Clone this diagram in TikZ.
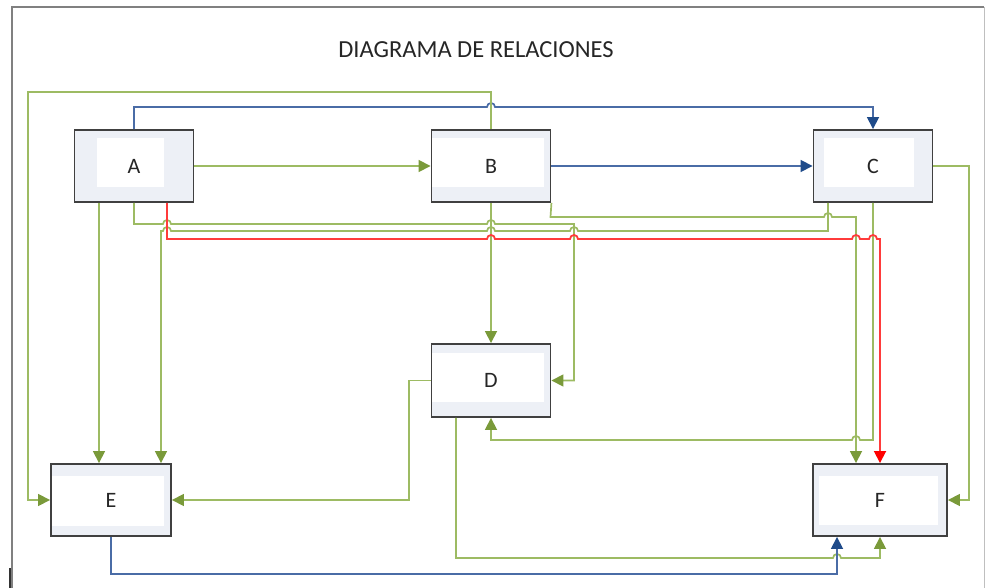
\documentclass[tikz,border=0pt]{standalone}
\usepackage{fontspec}
\setmainfont{Carlito}
\usetikzlibrary{arrows.meta}
\definecolor{lgreen}{HTML}{9DBB63}
\definecolor{agreen}{HTML}{7A9A3A}
\definecolor{lblue}{HTML}{4A6CA6}
\definecolor{ablue}{HTML}{1F4B8A}
\definecolor{lred}{HTML}{FF3B3B}
\definecolor{ared}{HTML}{FF0000}
\definecolor{boxfill}{HTML}{EDF0F6}
\definecolor{boxline}{HTML}{404040}
\definecolor{frame}{HTML}{808080}
\begin{document}
\begin{tikzpicture}[x=1pt,y=-1pt,
  box/.style n args={6}{draw=boxline, line width=1.9pt, fill=boxfill,
    minimum width=#1pt, minimum height=#2pt, inner sep=0pt,
    font=\fontsize{22}{26}\selectfont, text=black!85,
    path picture={\fill[white] ([xshift=#3pt,yshift=#6pt]path picture bounding box.south west)
      rectangle ([xshift=-#4pt,yshift=-#5pt]path picture bounding box.north east);}},
  gline/.style={draw=lgreen, line width=1.7pt, -{Triangle[length=12pt,width=12pt,color=agreen]}},
  bline/.style={draw=lblue, line width=1.7pt, -{Triangle[length=12pt,width=12pt,color=ablue]}},
  rline/.style={draw=lred, line width=1.8pt, -{Triangle[length=12pt,width=12pt,color=ared]}},
  jumpR/.style 2 args={insert path={-- (#1-4,#2) arc (180:360:4)}},
  jumpL/.style 2 args={insert path={-- (#1+4,#2) arc (0:-180:4)}}
]
\useasboundingbox (0,0) rectangle (986,588);
% frame
\draw[frame, line width=2pt] (12,588) -- (12,7) -- (984,7);
\draw[black!25, line width=1pt] (984,7) -- (984,588);
\draw[black!80, line width=2pt] (10,568) -- (10,588);
% title
\node[font=\fontsize{24.5}{29}\selectfont, text=black!85] (title) at (476,50) {DIAGRAMA DE RELACIONES};
% boxes: width, height, inset left, right, top, bottom
\node[box={119}{72}{22}{30}{8}{15}] (A) at (134,166) {A};
\node[box={119}{72}{0}{7}{8}{15}] (B) at (491,166) {B};
\node[box={119}{72}{10}{19}{8}{15}] (C) at (873,166) {C};
\node[box={119}{73}{0}{7}{9}{15}] (D) at (491,380.5) {D};
\node[box={120}{72}{0}{7}{12}{10}] (E) at (111,500) {E};
\node[box={134}{72}{6}{9}{12}{11}] (F) at (880,500) {F};
% connectors
\draw[gline] (A.east) -- (B.west);
\draw[bline] (A.north) -- (134,107) [jumpR={491}{107}] -- (873,107) -- (C.north);
\draw[bline] (B.east) -- (C.west);
\draw[gline] (B.north) -- (491,92) -- (28,92) -- (28,500) -- (E.west);
\draw[gline] ([xshift=-35pt]A.south) -- ([xshift=-12pt]E.north);
\draw[gline] (A.south) -- (134,224) [jumpR={167}{224}] [jumpR={491}{224}] -- (574,224) -- (574,380.5) -- (D.east);
\draw[gline] (B.south) -- (D.north);
\draw[gline] (B.south east) -- (550.5,217) [jumpR={828}{217}] -- (856,217) -- ([xshift=-24pt]F.north);
\draw[gline] (C.south) -- (873,440) [jumpL={856}{440}] -- (491,440) -- (D.south);
\draw[gline] ([xshift=-45pt]C.south) -- (828,231) [jumpL={574}{231}] [jumpL={491}{231}] [jumpL={167}{231}] -- (161,231) -- ([xshift=50pt]E.north);
\draw[gline] (C.east) -- (969,166) -- (969,500) -- (F.east);
\draw[gline] (D.west) -- (409,380.5) -- (409,500) -- (E.east);
\draw[gline] ([xshift=-35pt]D.south) -- (456,558) [jumpR={837}{558}] -- (880,558) -- (F.south);
\draw[bline] (E.south) -- (111,574) -- (837,574) -- ([xshift=-43pt]F.south);
\draw[rline] ([xshift=33pt]A.south) -- (167,239) [jumpR={491}{239}] [jumpR={574}{239}] [jumpR={856}{239}] [jumpR={873}{239}] -- (880,239) -- (F.north);
\end{tikzpicture}
\end{document}
